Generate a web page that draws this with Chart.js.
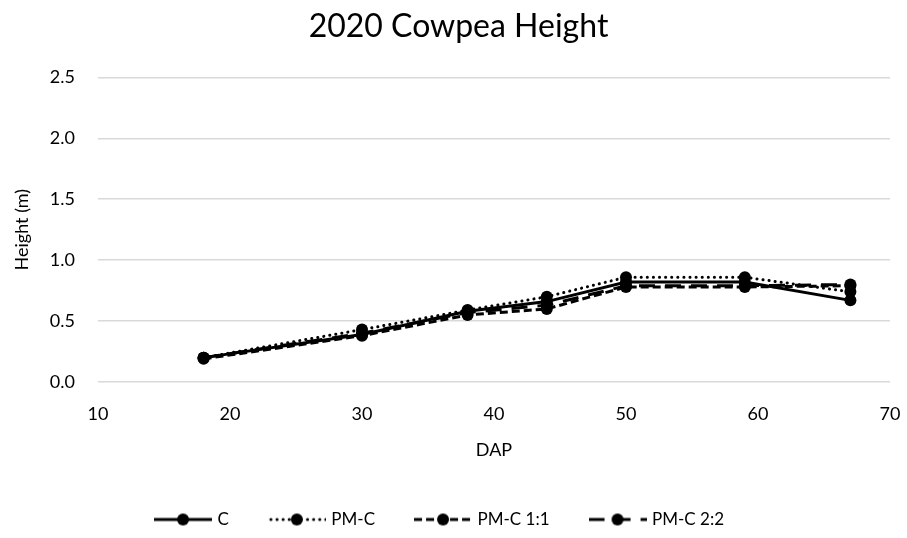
<!DOCTYPE html>
<html>
<head>
<meta charset="utf-8">
<script src="https://cdn.jsdelivr.net/npm/chart.js@4"></script>
<style>
  html, body { margin: 0; padding: 0; background: #fff; }
  #wrap { width: 907px; height: 538px; }
</style>
</head>
<body>
<div id="wrap"><canvas id="chart" width="907" height="538"></canvas></div>
<script>
// Days after planting
const dap = [18, 30, 38, 44, 50, 59, 67];

// Plant height (m) per treatment
const heightC      = [0.20, 0.39, 0.58, 0.66, 0.82, 0.82, 0.67];
const heightPMC    = [0.20, 0.43, 0.59, 0.70, 0.86, 0.86, 0.74];
const heightPMC11  = [0.19, 0.38, 0.55, 0.60, 0.78, 0.78, 0.79];
const heightPMC22  = [0.20, 0.40, 0.57, 0.63, 0.79, 0.79, 0.80];

const seriesNames = ['C', 'PM-C', 'PM-C 1:1', 'PM-C 2:2'];
const yTicks = [0, 0.5, 1.0, 1.5, 2.0, 2.5];
const xTicks = [10, 20, 30, 40, 50, 60, 70];

const FONT = 'Lato, "Open Sans", sans-serif';

const styles = [
  { dash: [],       cap: 'butt'  },
  { dash: [0.1, 6], cap: 'round' },
  { dash: [8, 4],   cap: 'butt'  },
  { dash: [16, 10], cap: 'butt'  }
];

function toPoints(vals) {
  return vals.map((v, i) => ({ x: dap[i], y: v }));
}

// Legend swatch: a short line in the series' dash style with a marker in the middle
function swatch(style) {
  const c = document.createElement('canvas');
  c.width = 58; c.height = 14;
  const g = c.getContext('2d');
  g.strokeStyle = '#000';
  g.lineWidth = 3;
  g.lineCap = style.cap;
  g.setLineDash(style.dash);
  g.beginPath();
  g.moveTo(style.cap === 'round' ? 3 : 0, 7);
  g.lineTo(58, 7);
  g.stroke();
  g.setLineDash([]);
  g.fillStyle = '#000';
  g.beginPath();
  g.arc(29, 7, 6, 0, Math.PI * 2);
  g.fill();
  return c;
}

const seriesValues = [heightC, heightPMC, heightPMC11, heightPMC22];

const datasets = seriesValues.map((vals, i) => ({
  label: seriesNames[i],
  data: toPoints(vals),
  borderColor: '#000',
  backgroundColor: '#000',
  borderWidth: 3,
  borderDash: styles[i].dash,
  borderCapStyle: styles[i].cap,
  pointRadius: 6,
  pointHoverRadius: 6,
  pointBackgroundColor: '#000',
  pointBorderColor: '#000',
  pointBorderWidth: 0,
  tension: 0,
  fill: false
}));

// draw the C series on top
datasets.reverse();

// nudge the legend row a little to the left of the canvas centre
const legendShift = {
  id: 'legendShift',
  afterUpdate(chart) {
    const lg = chart.legend;
    if (lg) { lg.left -= 18; lg.right -= 18; }
  }
};

new Chart(document.getElementById('chart'), {
  type: 'line',
  data: { datasets },
  plugins: [legendShift],
  options: {
    responsive: false,
    animation: false,
    layout: { padding: { left: 10, right: 0, top: 0, bottom: 0 } },
    plugins: {
      title: {
        display: true,
        text: '2020 Cowpea Height',
        color: '#000',
        font: { family: FONT, size: 32, weight: 'normal' },
        padding: { top: 7, bottom: 32 }
      },
      legend: {
        position: 'bottom',
        labels: {
          color: '#000',
          font: { family: FONT, size: 17, lineHeight: 1 },
          usePointStyle: true,
          pointStyleWidth: 52,
          padding: 42,
          generateLabels: () => seriesNames.map((name, i) => ({
            text: name,
            pointStyle: swatch(styles[i]),
            fillStyle: '#000',
            strokeStyle: '#000',
            fontColor: '#000',
            lineWidth: 0,
            hidden: false,
            datasetIndex: 3 - i
          }))
        }
      },
      tooltip: { enabled: false }
    },
    scales: {
      x: {
        type: 'linear',
        min: xTicks[0],
        max: xTicks[xTicks.length - 1],
        afterBuildTicks: (s) => { s.ticks = xTicks.map(v => ({ value: v })); },
        afterFit: (s) => {
          s.height = 87;
          s.paddingLeft = 0;
          s.paddingRight = 17;
        },
        grid: { display: false, drawTicks: false },
        border: { display: false },
        ticks: {
          color: '#000',
          font: { family: FONT, size: 18 },
          padding: 21
        },
        title: {
          display: true,
          text: 'DAP',
          color: '#000',
          font: { family: FONT, size: 18 },
          padding: { top: 16, bottom: 8 }
        }
      },
      y: {
        type: 'linear',
        min: yTicks[0],
        max: yTicks[yTicks.length - 1],
        afterBuildTicks: (s) => { s.ticks = yTicks.map(v => ({ value: v })); },
        afterFit: (s) => { s.width = 88; },
        grid: { color: '#d9d9d9', lineWidth: 1.5, drawTicks: false },
        border: { display: false },
        ticks: {
          color: '#000',
          font: { family: FONT, size: 18 },
          padding: 23,
          callback: (v) => Number(v).toFixed(1)
        },
        title: {
          display: true,
          text: 'Height (m)',
          color: '#000',
          font: { family: FONT, size: 18 },
          padding: { top: 1, bottom: 8 }
        }
      }
    }
  }
});
</script>
</body>
</html>
